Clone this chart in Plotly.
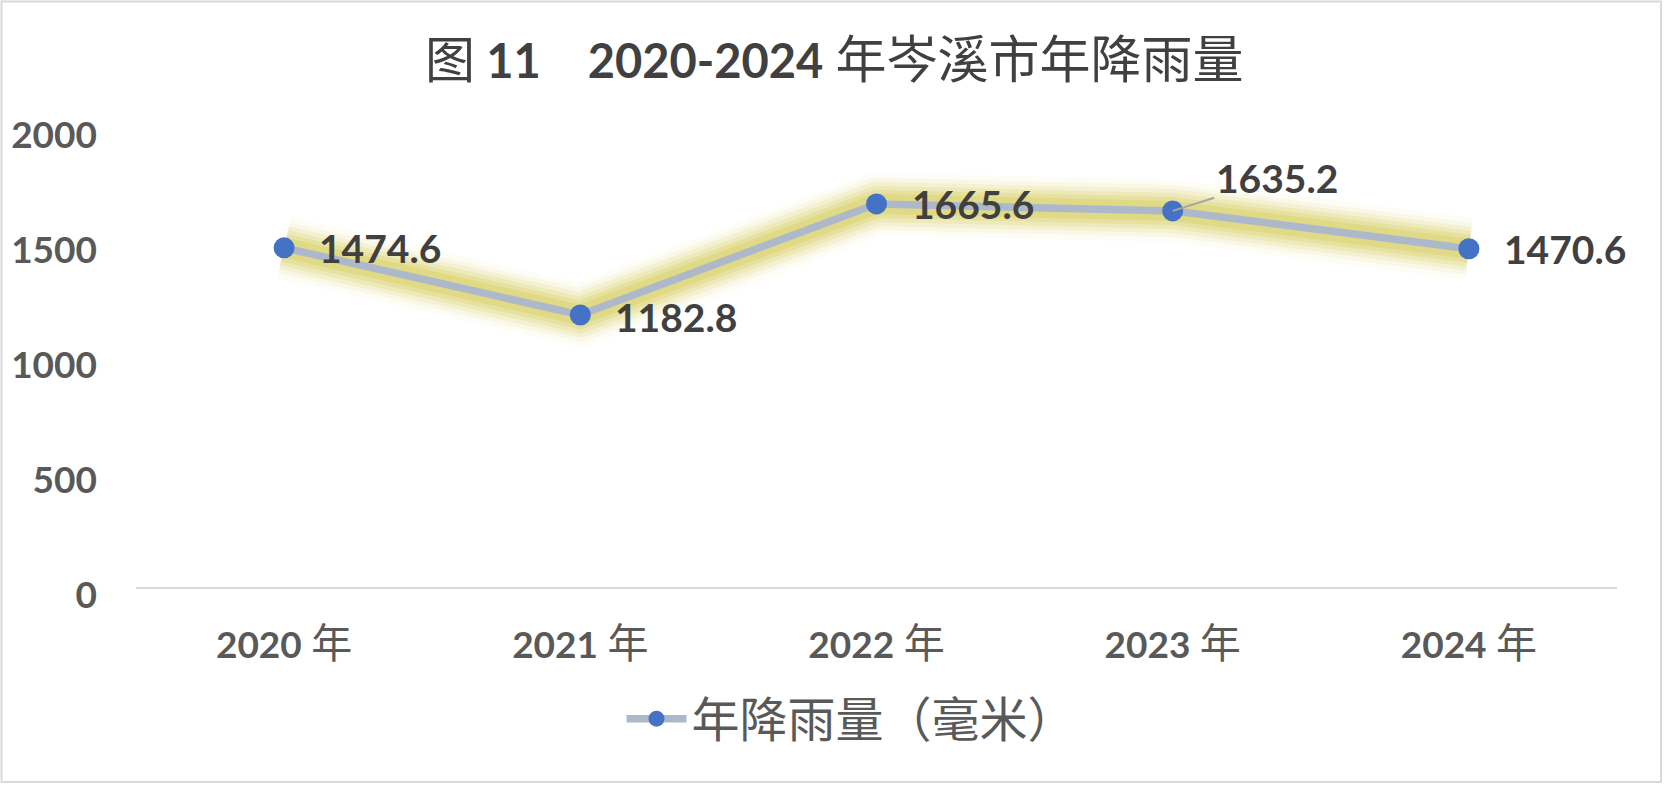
import plotly.graph_objects as go

years = ["2020 年", "2021 年", "2022 年", "2023 年", "2024 年"]
rainfall = [1474.6, 1182.8, 1665.6, 1635.2, 1470.6]
label_text = ["1474.6", "1182.8", "1665.6", "1635.2", "1470.6"]
series_name = "年降雨量（毫米）"
y_ticks = [0, 500, 1000, 1500, 2000]

W, H = 1668, 787
L, R, T, B = 136, 1617, 127, 587  # plot area in px


def px_x(p):
    return (p - L) / (R - L)


def px_y(p):
    return (B - p) / (B - T)


LAT = "Lato, 'Open Sans', sans-serif"
CJK = "'Noto Sans CJK SC', sans-serif"

fig = go.Figure()

# glow layers
for w, a in [(62, 0.05), (52, 0.08), (44, 0.12), (36, 0.17), (28, 0.22), (20, 0.27)]:
    fig.add_trace(go.Scatter(
        x=years, y=rainfall, mode="lines",
        line=dict(color=f"rgba(208,196,68,{a})", width=w, shape="linear"),
        showlegend=False, hoverinfo="skip"))

fig.add_trace(go.Scatter(
    x=years, y=rainfall, mode="lines+markers", name=series_name,
    line=dict(color="#ADB9CA", width=7.5),
    marker=dict(color="#4472C4", size=21, line=dict(width=0)),
))

# data labels
for i, (xv, yv, t) in enumerate(zip(years, rainfall, label_text)):
    if i == 3:
        fig.add_annotation(
            x=xv, y=yv, text=f"<b>{t}</b>", showarrow=True, arrowhead=0,
            arrowcolor="#A6A6A6", arrowwidth=2, ax=104, ay=-33, standoff=0,
            font=dict(family=LAT, size=39, color="#404040"))
    else:
        ysh = -2 if i == 1 else 0
        fig.add_annotation(
            x=xv, y=yv, text=f"<b>{t}</b>", showarrow=False,
            xanchor="left", yanchor="middle", xshift=33, yshift=ysh,
            font=dict(family=LAT, size=39, color="#404040"))

# title with mixed fonts
title_html = ("<span style=\"font-family:'Noto Sans CJK SC';font-size:50px\">图 </span>"
              "<b>11</b>\u3000<b>2020-2024</b> "
              "<span style=\"font-family:'Noto Sans CJK SC';font-size:51px\">年岑溪市年降雨量</span>")
fig.add_annotation(
    x=px_x(834), y=px_y(56), xref="paper", yref="paper", text=title_html,
    showarrow=False, xanchor="center", yanchor="middle",
    font=dict(family=LAT, size=47, color="#404040"))

# outer border
fig.add_shape(type="rect", xref="paper", yref="paper",
              x0=px_x(1.5), x1=px_x(1661), y0=px_y(1.5), y1=px_y(782),
              line=dict(color="#D9D9D9", width=2), fillcolor="rgba(0,0,0,0)")

xt = [f"<b>{y.split(' ')[0]}</b> <span style=\"font-family:'Noto Sans CJK SC';font-size:41px\">{y.split(' ')[1]}</span>"
      for y in years]

fig.update_layout(
    width=W, height=H, autosize=False,
    margin=dict(l=L, r=W - R, t=T, b=H - B, pad=0),
    paper_bgcolor="white", plot_bgcolor="white",
    showlegend=True,
    legend=dict(orientation="h", x=0.5 - 25 / (R - L), xanchor="center", y=px_y(719), yanchor="middle",
                font=dict(family=CJK, size=48, color="#595959"),
                bgcolor="rgba(0,0,0,0)", itemwidth=60),
    xaxis=dict(type="category", range=[-0.5, 4.5], showgrid=False, zeroline=False,
               showline=True, linecolor="#D9D9D9", linewidth=2,
               ticks="", ticklabelstandoff=25,
               tickfont=dict(family=LAT, size=37, color="#595959"),
               tickvals=years, ticktext=xt),
    yaxis=dict(range=[0, 2000], tickvals=y_ticks, showgrid=False, zeroline=False,
               showline=False, ticks="", ticklabelstandoff=38, ticklabelshift=8,
               tickfont=dict(family=LAT, size=37, color="#595959", weight="bold")),
)

fig.write_html("out.html", post_script="document.body.style.margin='0';",
               config={"displayModeBar": False})
